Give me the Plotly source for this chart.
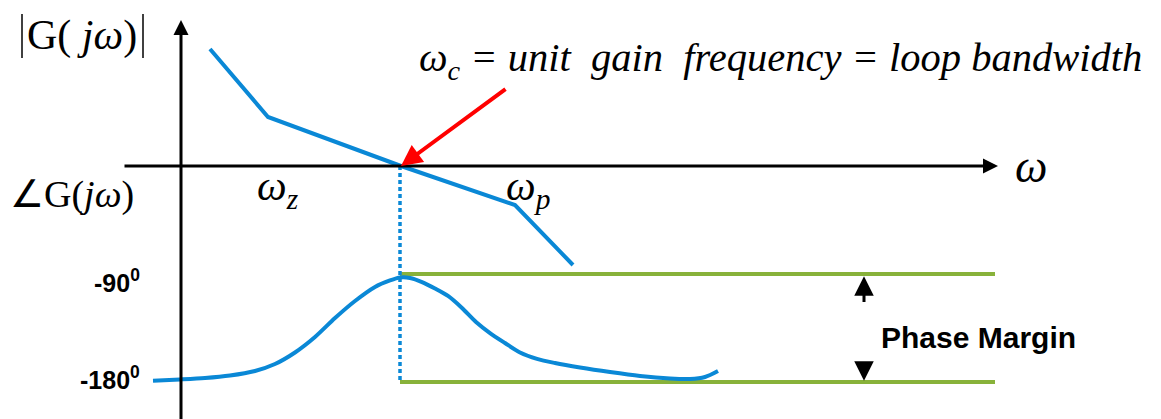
import plotly.graph_objects as go

# ---------------- data (diagram units) ----------------
# x: frequency position along the omega axis
# magnitude asymptote |G(jw)| (gain units, 0 = unit gain line)
mag_w = [210, 268, 401, 515, 573]
mag_g = [117, 49, 0, -39, -99]

# phase curve, degrees
ph_w = [153, 180, 205, 230, 255, 275, 295, 315, 335, 355, 375, 390, 400, 410,
        422, 435, 448, 462, 476, 490, 505, 520, 537, 555, 580, 610, 640, 670,
        690, 705, 718]
ph_deg = [-178.9, -177.9, -176.7, -174.6, -170.8, -165.0, -155.4, -142.5,
          -126.7, -112.5, -100.8, -95.4, -92.9, -93.3, -96.7, -102.1, -108.3,
          -118.3, -130.0, -139.2, -147.5, -155.4, -160.8, -164.2, -167.9,
          -171.7, -175.0, -177.1, -177.5, -175.8, -170.8]

w_c = 401            # unit gain frequency
w_z = 268            # zero
w_p = 515            # pole
pm_ref = [-90, -180]  # phase margin reference levels
pm_w = [400, 995]     # extent of reference lines
pm_arrow_w = 864

tick_labels = ["-90<sup>0</sup>", "-180<sup>0</sup>"]

BLUE = "#0A88D6"
GREEN = "#88B23A"
SERIF = "Liberation Serif"
SANS = "Liberation Sans, Arial, sans-serif"

fig = go.Figure()

# magnitude asymptote
fig.add_trace(go.Scatter(x=mag_w, y=mag_g, mode="lines",
                         line=dict(color=BLUE, width=4), yaxis="y",
                         hoverinfo="skip", showlegend=False))

# phase reference lines
for lev in pm_ref:
    fig.add_trace(go.Scatter(x=pm_w, y=[lev, lev], mode="lines",
                             line=dict(color=GREEN, width=4), yaxis="y2",
                             hoverinfo="skip", showlegend=False))

# dotted crossover line (phase axis: 0 deg coincides with unit gain)
fig.add_trace(go.Scatter(x=[w_c - 1, w_c - 1], y=[0, -178.5], mode="lines",
                         line=dict(color=BLUE, width=3.5, dash="4px,3px"),
                         yaxis="y2", hoverinfo="skip", showlegend=False))

# phase curve
fig.add_trace(go.Scatter(x=ph_w, y=ph_deg, mode="lines",
                         line=dict(color=BLUE, width=4, shape="spline",
                                   smoothing=0.8),
                         yaxis="y2", hoverinfo="skip", showlegend=False))

ann = []
# omega axis (horizontal) with arrow
ann.append(dict(x=998, y=0, ax=123, ay=0, xref="x", yref="y", axref="x", ayref="y",
                showarrow=True, arrowhead=2, arrowwidth=3, arrowsize=1,
                arrowcolor="black", text="", standoff=0, startstandoff=0))
# vertical axis with arrow
ann.append(dict(x=181, y=146, ax=181, ay=-260, xref="x", yref="y", axref="x", ayref="y",
                showarrow=True, arrowhead=2, arrowwidth=3, arrowsize=1,
                arrowcolor="black", text="", standoff=0))
# red arrow pointing to crossover
ann.append(dict(x=w_c, y=0, ax=507, ay=78, xref="x", yref="y", axref="x", ayref="y",
                showarrow=True, arrowhead=2, arrowwidth=4, arrowsize=1.05,
                arrowcolor="#FF0000", text="", standoff=0))
# phase margin arrows
ann.append(dict(x=pm_arrow_w, y=-91.8, ax=pm_arrow_w, ay=-114.5, xref="x", yref="y2",
                axref="x", ayref="y2", showarrow=True, arrowhead=2, arrowwidth=3,
                arrowsize=1.3, arrowcolor="black", text="", standoff=0))
ann.append(dict(x=pm_arrow_w, y=-179.0, ax=pm_arrow_w, ay=-163.5, xref="x", yref="y2",
                axref="x", ayref="y2", showarrow=True, arrowhead=2, arrowwidth=3,
                arrowsize=1.3, arrowcolor="black", text="", standoff=0))

# texts
ann.append(dict(x=417, y=106, xref="x", yref="y", xanchor="left", yanchor="middle",
                showarrow=False,
                text="<i>ω<sub>c</sub> = unit  gain  frequency = loop bandwidth</i>",
                font=dict(family=SERIF, size=40.5, color="black")))
ann.append(dict(x=1031, y=0, xref="x", yref="y", xanchor="center", yanchor="middle",
                showarrow=False, text="<i>ω</i>",
                font=dict(family=SERIF, size=46, color="black")))
ann.append(dict(x=82, y=131, xref="x", yref="y", xanchor="center", yanchor="middle",
                showarrow=False, text="G( <i>jω</i>)",
                font=dict(family=SERIF, size=42, color="black")))
ann.append(dict(x=8, y=-28, xref="x", yref="y", xanchor="left", yanchor="middle",
                showarrow=False, text="∠G(<i>jω</i>)",
                font=dict(family=SERIF, size=38, color="black")))
ann.append(dict(x=w_z + 10, y=-23, xref="x", yref="y", xanchor="center", yanchor="middle",
                showarrow=False, text="<i>ω<sub>z</sub></i>",
                font=dict(family=SERIF, size=42, color="black")))
ann.append(dict(x=w_p + 13, y=-23, xref="x", yref="y", xanchor="center", yanchor="middle",
                showarrow=False, text="<i>ω<sub>p</sub></i>",
                font=dict(family=SERIF, size=42, color="black")))
for lev, lab, ys in zip(pm_ref, tick_labels, [-7, 4]):
    ann.append(dict(x=142, y=lev, xref="x", yref="y2", xanchor="right", yanchor="middle",
                    yshift=ys, showarrow=False, text="<b>" + lab + "</b>",
                    font=dict(family=SANS, size=25, color="black")))
ann.append(dict(x=879, y=-143, xref="x", yref="y2", xanchor="left", yanchor="middle",
                showarrow=False, text="<b>Phase Margin</b>",
                font=dict(family=SANS, size=30, color="black")))

shapes = [
    dict(type="line", xref="x", yref="y", x0=22, x1=22, y0=152, y1=108,
         line=dict(color="black", width=1.5)),
    dict(type="line", xref="x", yref="y", x0=143, x1=143, y0=152, y1=108,
         line=dict(color="black", width=1.5)),
]

fig.update_layout(
    width=1161, height=419,
    margin=dict(l=0, r=0, t=0, b=0),
    paper_bgcolor="white", plot_bgcolor="white",
    xaxis=dict(range=[0, 1161], visible=False, fixedrange=True),
    yaxis=dict(range=[-253, 166], visible=False, fixedrange=True),
    yaxis2=dict(range=[-210.83, 138.33], visible=False, overlaying="y",
                fixedrange=True),
    annotations=ann, shapes=shapes, showlegend=False,
)

fig.write_html("out.html", config={"displayModeBar": False},
               post_script="document.body.style.margin='0px';"
                           "document.body.style.overflow='hidden';")
